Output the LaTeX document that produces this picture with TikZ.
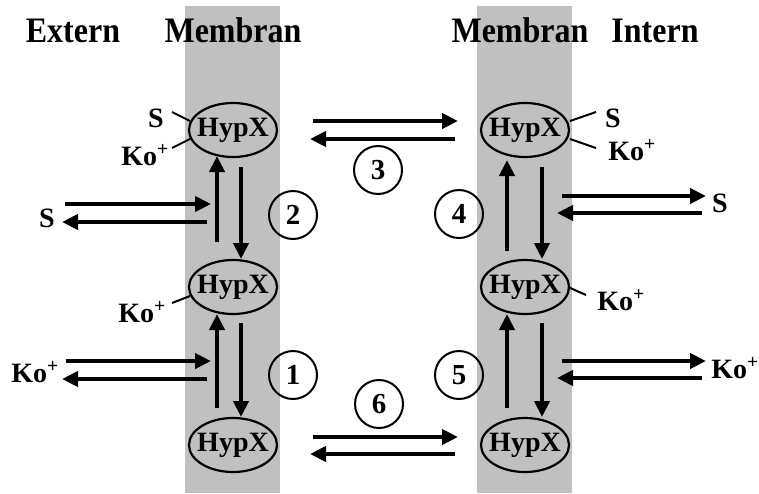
\documentclass[tikz,border=0pt]{standalone}
\usepackage{fontspec}
\setmainfont{Liberation Serif}
\usetikzlibrary{arrows.meta,shapes.geometric}
\definecolor{band}{HTML}{C0C0C0}
\newcommand{\hx}{\makebox[0pt]{HypX}}
\newcommand{\ko}{Ko\textsuperscript{+}}
\tikzset{
  hyp/.style={ellipse,draw,line width=2.2pt,minimum width=88pt,minimum height=54pt,inner sep=0pt,font=\fontsize{28}{28}\selectfont\bfseries},
  lbl/.style={anchor=base,inner sep=0pt,font=\fontsize{28}{28}\selectfont\bfseries},
  ttl/.style={anchor=base,inner sep=0pt,font=\fontsize{32}{32}\selectfont\bfseries},
  num/.style={circle,draw,line width=2pt,minimum size=48pt,inner sep=0pt,font=\fontsize{29}{29}\selectfont\bfseries},
  arr/.style={line width=4pt,-{Triangle[length=16pt,width=15pt]}},
  tick/.style={line width=2pt}
}
\begin{document}
\begin{tikzpicture}[x=1pt,y=-1pt]
\useasboundingbox (0,0) rectangle (759,493);
\fill[band] (185,6) rectangle (280,493);
\fill[band] (477,6) rectangle (572,493);
% titles
\node[ttl] (tEx) at (73,42) {\scalebox{1}[1.12]{Extern}};
\node[ttl] (tM1) at (233,42) {\scalebox{1}[1.12]{Membran}};
\node[ttl] (tM2) at (520,42) {\scalebox{1}[1.12]{Membran}};
\node[ttl] (tIn) at (655,42) {\scalebox{1}[1.12]{Intern}};
% ellipses
\node[hyp] (L1) at (233,130) {\hx};
\node[hyp] (L2) at (233,287) {\hx};
\node[hyp] (L3) at (233,445) {\hx};
\node[hyp] (R1) at (525,130) {\hx};
\node[hyp] (R2) at (525,287) {\hx};
\node[hyp] (R3) at (525,445) {\hx};
% circle numbers
\node[num] (n1) at (293,375) {1};
\node[num] (n2) at (293,215) {2};
\node[num] (n3) at (378,170) {3};
\node[num] (n4) at (459,214) {4};
\node[num] (n5) at (459,375) {5};
\node[num] (n6) at (379,404) {6};
% side labels
\node[lbl] (sTL) at (156,127) {S};
\node[lbl] (kTL) at (145,165) {\ko};
\node[lbl] (sL) at (47,227) {S};
\node[lbl] (kML) at (142,322) {\ko};
\node[lbl] (kL) at (35,382) {\ko};
\node[lbl] (sTR) at (613,127) {S};
\node[lbl] (kTR) at (632,160) {\ko};
\node[lbl] (sR) at (720,212) {S};
\node[lbl] (kMR) at (621,310) {\ko};
\node[lbl] (kR) at (735,378) {\ko};
% ticks
\coordinate (a1) at (172,112); \coordinate (a2) at (190,121);
\coordinate (b1) at (172,148); \coordinate (b2) at (190,139);
\coordinate (c1) at (172,303); \coordinate (c2) at (190,296);
\coordinate (d1) at (596,112); \coordinate (d2) at (570,121);
\coordinate (e1) at (596,148); \coordinate (e2) at (570,139);
\coordinate (f1) at (586,295); \coordinate (f2) at (568,287);
\draw[tick] (a1) -- (a2);
\draw[tick] (b1) -- (b2);
\draw[tick] (c1) -- (c2);
\draw[tick] (d1) -- (d2);
\draw[tick] (e1) -- (e2);
\draw[tick] (f1) -- (f2);
% vertical arrows left
\coordinate (lu1s) at (217,242); \coordinate (lu1e) at (217,156);
\coordinate (ld1s) at (241,167); \coordinate (ld1e) at (241,259);
\coordinate (lu2s) at (217,408); \coordinate (lu2e) at (217,314);
\coordinate (ld2s) at (241,323); \coordinate (ld2e) at (241,417);
\draw[arr] (lu1s) -- (lu1e);
\draw[arr] (ld1s) -- (ld1e);
\draw[arr] (lu2s) -- (lu2e);
\draw[arr] (ld2s) -- (ld2e);
% vertical arrows right
\coordinate (ru1s) at (507,251); \coordinate (ru1e) at (507,160);
\coordinate (rd1s) at (542,167); \coordinate (rd1e) at (542,259);
\coordinate (ru2s) at (507,408); \coordinate (ru2e) at (507,314);
\coordinate (rd2s) at (542,323); \coordinate (rd2e) at (542,417);
\draw[arr] (ru1s) -- (ru1e);
\draw[arr] (rd1s) -- (rd1e);
\draw[arr] (ru2s) -- (ru2e);
\draw[arr] (rd2s) -- (rd2e);
% horizontal arrows left
\coordinate (hs1) at (65,204); \coordinate (hs2) at (211,204);
\coordinate (hs3) at (207,222); \coordinate (hs4) at (62,222);
\coordinate (hk1) at (66,361); \coordinate (hk2) at (211,361);
\coordinate (hk3) at (207,379); \coordinate (hk4) at (62,379);
\draw[arr] (hs1) -- (hs2);
\draw[arr] (hs3) -- (hs4);
\draw[arr] (hk1) -- (hk2);
\draw[arr] (hk3) -- (hk4);
% horizontal arrows middle
\coordinate (m31) at (313,121); \coordinate (m32) at (458,121);
\coordinate (m33) at (455,139); \coordinate (m34) at (310,139);
\coordinate (m61) at (313,437); \coordinate (m62) at (458,437);
\coordinate (m63) at (455,454); \coordinate (m64) at (310,454);
\draw[arr] (m31) -- (m32);
\draw[arr] (m33) -- (m34);
\draw[arr] (m61) -- (m62);
\draw[arr] (m63) -- (m64);
% horizontal arrows right
\coordinate (rs1) at (562,196); \coordinate (rs2) at (706,196);
\coordinate (rs3) at (702,213); \coordinate (rs4) at (557,213);
\coordinate (rk1) at (562,361); \coordinate (rk2) at (706,361);
\coordinate (rk3) at (702,378); \coordinate (rk4) at (557,378);
\draw[arr] (rs1) -- (rs2);
\draw[arr] (rs3) -- (rs4);
\draw[arr] (rk1) -- (rk2);
\draw[arr] (rk3) -- (rk4);
\end{tikzpicture}
\end{document}
